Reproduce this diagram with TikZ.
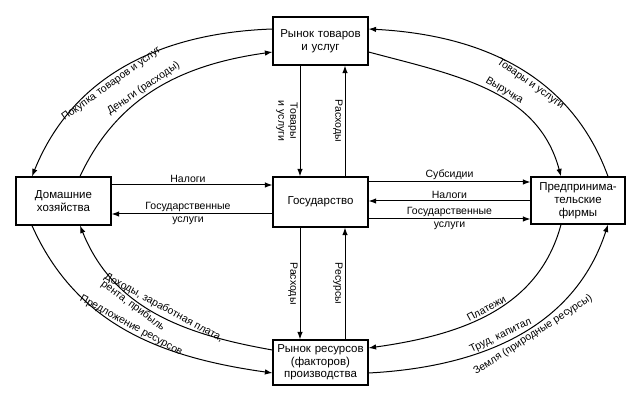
\documentclass[tikz,border=0pt]{standalone}
\usepackage{fontspec}
\setmainfont{Liberation Sans}
\usetikzlibrary{arrows.meta}

\tikzset{
    box/.style={draw, line width=1.2pt, align=center, inner sep=2pt,
        text width=91, minimum width=95, font=\fontsize{11.5}{13}\selectfont},
    flow/.style={line width=1pt, -{Latex[length=7.5pt,width=5.5pt]}},
    lbl/.style={inner sep=2pt, align=center, font=\fontsize{10.5}{12}\selectfont},
}

\begin{document}
\begin{tikzpicture}[x=1pt,y=1pt]

    \useasboundingbox (0,0) rectangle (633,-401);

    % markets, sectors
    \node [box, minimum height=48] (goods) at (320.5,-41) {Рынок товаров\\и услуг};
    \node [box, minimum height=50] (gov) at (320.5,-202) {Государство};
    \node [box, minimum height=48] (home) at (63.5,-201) {Домашние\\хозяйства};
    \node [box, minimum height=47, text width=90, minimum width=94] (firms)
        at (578,-200.5) {Предпринима-\\тельские\\фирмы};
    \node [box, minimum height=45, font=\fontsize{11.5}{12.5}\selectfont] (factors)
        at (320.5,-362.5) {Рынок ресурсов\\(факторов)\\производства};

    % government flows
    \draw [flow]
        ([xshift=-20.5]goods.south) -- ([xshift=-20.5]gov.north)
            node [midway, rotate=-90, below, lbl] {Товары\\и услуги};
    \draw [flow]
        ([xshift=24.5]gov.north) -- ([xshift=24.5]goods.south)
            node [midway, rotate=-90, below, lbl] {Расходы};
    \draw [flow]
        ([xshift=-20.5]gov.south) -- ([xshift=-20.5]factors.north)
            node [midway, rotate=-90, below, lbl] {Расходы};
    \draw [flow]
        ([xshift=24.5]factors.north) -- ([xshift=24.5]gov.south)
            node [midway, rotate=-90, below, lbl] {Ресурсы};

    \draw [flow]
        ([yshift=16]home.east) -- ([yshift=16]home.east -| gov.west)
            node [midway, above, lbl, xshift=-4] {Налоги};
    \draw [flow]
        ([yshift=-13]home.east -| gov.west) -- ([yshift=-13]home.east)
            node [midway, above, lbl, xshift=-4] {Государственные}
            node [midway, below, lbl, xshift=-4] {услуги};

    \draw [flow]
        ([yshift=20]gov.east) -- ([yshift=20]gov.east -| firms.west)
            node [midway, above, lbl] {Субсидии};
    \draw [flow]
        ([yshift=1]gov.east -| firms.west) -- ([yshift=1]gov.east)
            node [midway, above, lbl] {Налоги};
    \draw [flow]
        ([yshift=-17]gov.east) -- ([yshift=-17]gov.east -| firms.west)
            node [midway, above, lbl] {Государственные}
            node [midway, below, lbl] {услуги};

    % circular flows
    \draw [flow]
        ([yshift=12]goods.west)
        to[out=182,in=68]
            node [pos=0.58, sloped, below, lbl] {Покупка товаров и услуг}
        ([xshift=-31.5]home.north);
    \draw [flow]
        ([xshift=16.5]home.north)
        to[out=65,in=188]
            node [pos=0.45, sloped, above, lbl] {Деньги (расходы)}
        ([yshift=-11]goods.west);

    \draw [flow]
        ([xshift=30]firms.north)
        to[out=110,in=-3]
            node [pos=0.42, sloped, below, lbl] {Товары и услуги}
        ([yshift=12]goods.east);
    \draw [flow]
        ([yshift=-11]goods.east)
        to[out=-15,in=105]
            node [pos=0.56, sloped, above, lbl] {Выручка}
        ([xshift=-17]firms.north);

    \draw [flow]
        ([xshift=-31.5]home.south)
        to[out=-66,in=172]
            node [pos=0.5, sloped, above, lbl, inner sep=1pt] {Предложение ресурсов}
        ([yshift=-10.5]factors.west);
    \draw [flow]
        ([yshift=12.5]factors.west)
        to[out=170,in=-68]
            node [pos=0.48, sloped, above, lbl, inner sep=3pt] {Доходы, заработная плата,}
            node [pos=0.6, sloped, below, lbl, inner sep=1pt] {рента, прибыль}
        ([xshift=16.5]home.south);

    \draw [flow]
        ([xshift=-17]firms.south)
        to[out=-105,in=8]
            node [pos=0.5, sloped, above, lbl] {Платежи}
        ([yshift=14.5]factors.east);
    \draw [flow]
        ([yshift=-10.5]factors.east)
        to[out=3,in=-108]
            node [pos=0.45, sloped, above, lbl] {Труд, капитал}
            node [pos=0.55, sloped, below, lbl] {Земля (природные ресурсы)}
        ([xshift=30]firms.south);

\end{tikzpicture}
\end{document}
